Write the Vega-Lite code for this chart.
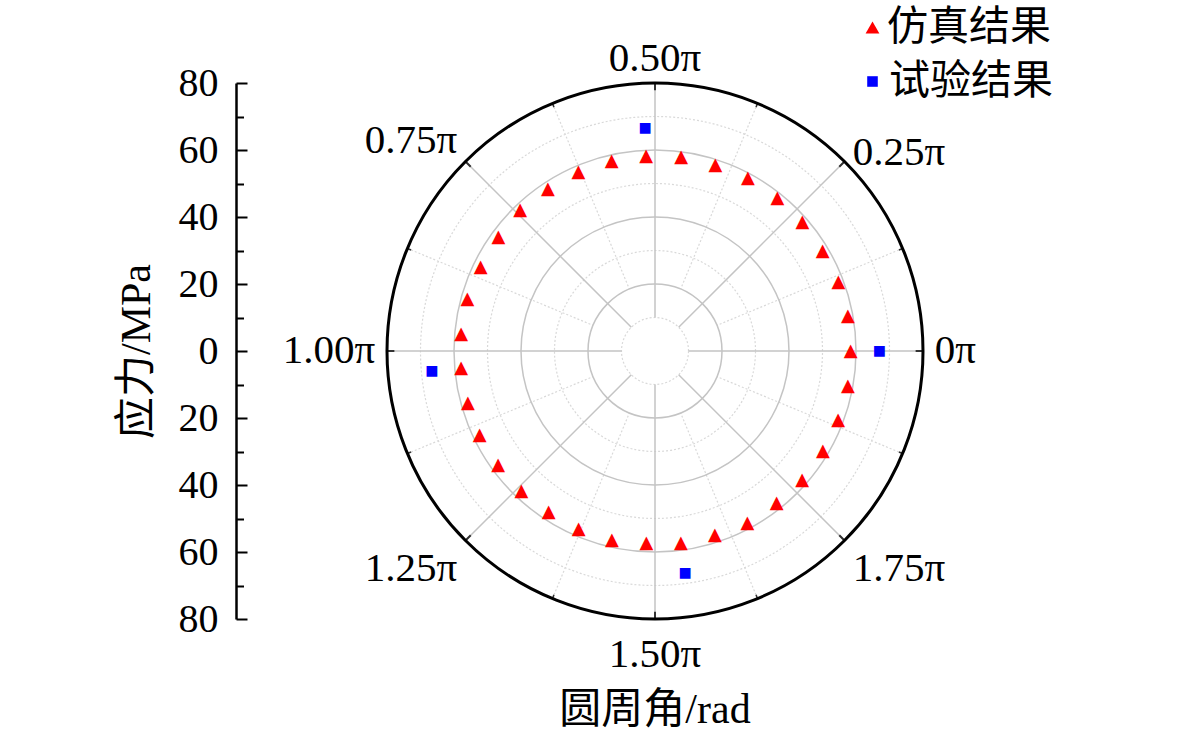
{
  "$schema": "https://vega.github.io/schema/vega-lite/v6.json",
  "description": "Polar stress plot: simulation vs test results around the circumference.",
  "width": 536,
  "height": 536,
  "autosize": "none",
  "padding": {"left": 387, "top": 83, "right": 258, "bottom": 118},
  "background": "white",
  "title": {
    "text": "圆周角/rad",
    "orient": "bottom",
    "anchor": "middle",
    "offset": 15,
    "font": "Liberation Serif, Noto Sans CJK SC",
    "fontSize": 42,
    "fontWeight": "normal",
    "color": "black"
  },
  "datasets": {
    "sim": [
      {"a": 0.0000, "r": 58.4, "s": "仿真结果"},
      {"a": 0.0571, "r": 58.5, "s": "仿真结果"},
      {"a": 0.1143, "r": 58.5, "s": "仿真结果"},
      {"a": 0.1714, "r": 58.3, "s": "仿真结果"},
      {"a": 0.2286, "r": 58.4, "s": "仿真结果"},
      {"a": 0.2857, "r": 58.6, "s": "仿真结果"},
      {"a": 0.3429, "r": 58.6, "s": "仿真结果"},
      {"a": 0.4000, "r": 58.4, "s": "仿真结果"},
      {"a": 0.4571, "r": 58.4, "s": "仿真结果"},
      {"a": 0.5143, "r": 58.2, "s": "仿真结果"},
      {"a": 0.5714, "r": 58.2, "s": "仿真结果"},
      {"a": 0.6286, "r": 58.1, "s": "仿真结果"},
      {"a": 0.6857, "r": 58.0, "s": "仿真结果"},
      {"a": 0.7429, "r": 58.2, "s": "仿真结果"},
      {"a": 0.8000, "r": 57.8, "s": "仿真结果"},
      {"a": 0.8571, "r": 57.8, "s": "仿真结果"},
      {"a": 0.9143, "r": 58.1, "s": "仿真结果"},
      {"a": 0.9714, "r": 58.1, "s": "仿真结果"},
      {"a": 1.0286, "r": 58.1, "s": "仿真结果"},
      {"a": 1.0857, "r": 57.9, "s": "仿真结果"},
      {"a": 1.1429, "r": 58.1, "s": "仿真结果"},
      {"a": 1.2000, "r": 57.9, "s": "仿真结果"},
      {"a": 1.2571, "r": 57.7, "s": "仿真结果"},
      {"a": 1.3143, "r": 57.6, "s": "仿真结果"},
      {"a": 1.3714, "r": 57.9, "s": "仿真结果"},
      {"a": 1.4286, "r": 57.8, "s": "仿真结果"},
      {"a": 1.4857, "r": 57.5, "s": "仿真结果"},
      {"a": 1.5429, "r": 57.8, "s": "仿真结果"},
      {"a": 1.6000, "r": 57.9, "s": "仿真结果"},
      {"a": 1.6571, "r": 58.2, "s": "仿真结果"},
      {"a": 1.7143, "r": 58.2, "s": "仿真结果"},
      {"a": 1.7714, "r": 58.3, "s": "仿真结果"},
      {"a": 1.8286, "r": 58.4, "s": "仿真结果"},
      {"a": 1.8857, "r": 58.4, "s": "仿真结果"},
      {"a": 1.9429, "r": 58.5, "s": "仿真结果"}
    ],
    "exp": [
      {"a": 0.0000, "r": 67.0, "s": "试验结果"},
      {"a": 0.5143, "r": 66.5, "s": "试验结果"},
      {"a": 1.0286, "r": 66.9, "s": "试验结果"},
      {"a": 1.5429, "r": 67.0, "s": "试验结果"}
    ],
    "majorRings": [{"r": 20}, {"r": 40}, {"r": 60}],
    "minorRings": [{"r": 10}, {"r": 30}, {"r": 50}, {"r": 70}],
    "outerRing": [{"r": 80}],
    "spokes": [
      {"a": 0}, {"a": 0.25}, {"a": 0.5}, {"a": 0.75},
      {"a": 1}, {"a": 1.25}, {"a": 1.5}, {"a": 1.75}
    ],
    "minorSpokes": [
      {"a": 0.125}, {"a": 0.375}, {"a": 0.625}, {"a": 0.875},
      {"a": 1.125}, {"a": 1.375}, {"a": 1.625}, {"a": 1.875}
    ],
    "angleLabels": [
      {"a": 0, "t": "0π"},
      {"a": 0.25, "t": "0.25π"},
      {"a": 0.5, "t": "0.50π"},
      {"a": 0.75, "t": "0.75π"},
      {"a": 1, "t": "1.00π"},
      {"a": 1.25, "t": "1.25π"},
      {"a": 1.5, "t": "1.50π"},
      {"a": 1.75, "t": "1.75π"}
    ],
    "yRange": [{"v": -80}, {"v": 80}]
  },
  "layer": [
    {
      "data": {"name": "minorRings"},
      "mark": {"type": "arc", "filled": false, "stroke": "#d9d9d9", "strokeWidth": 1.2, "strokeDash": [2, 2]},
      "encoding": {
        "theta": {"datum": 0, "type": "quantitative", "stack": null, "scale": {"type": "linear", "domain": [0, 2], "range": [1.5707963, -4.712389]}},
        "theta2": {"datum": 2.01},
        "radius": {"field": "r", "type": "quantitative", "scale": {"type": "linear", "domain": [0, 80], "range": [0, 268], "zero": true}},
        "radius2": {"datum": 0}
      }
    },
    {
      "data": {"name": "minorSpokes"},
      "mark": {"type": "arc", "filled": false, "stroke": "#d9d9d9", "strokeWidth": 1.2, "strokeDash": [2, 2]},
      "encoding": {
        "theta": {"field": "a", "type": "quantitative", "stack": null},
        "theta2": {"field": "a"},
        "radius": {"datum": 80, "type": "quantitative"},
        "radius2": {"datum": 20}
      }
    },
    {
      "data": {"name": "majorRings"},
      "mark": {"type": "arc", "filled": false, "stroke": "#c4c4c4", "strokeWidth": 1.5},
      "encoding": {
        "theta": {"datum": 0, "type": "quantitative", "stack": null},
        "theta2": {"datum": 2.01},
        "radius": {"field": "r", "type": "quantitative"},
        "radius2": {"datum": 0}
      }
    },
    {
      "data": {"name": "spokes"},
      "mark": {"type": "arc", "filled": false, "stroke": "#c4c4c4", "strokeWidth": 1.5},
      "encoding": {
        "theta": {"field": "a", "type": "quantitative", "stack": null},
        "theta2": {"field": "a"},
        "radius": {"datum": 80, "type": "quantitative"},
        "radius2": {"datum": 10}
      }
    },
    {
      "data": {"name": "spokes"},
      "mark": {"type": "arc", "filled": false, "stroke": "#333333", "strokeWidth": 2},
      "encoding": {
        "theta": {"field": "a", "type": "quantitative", "stack": null},
        "theta2": {"field": "a"},
        "radius": {"datum": 80, "type": "quantitative"},
        "radius2": {"datum": 77.8}
      }
    },
    {
      "data": {"name": "minorSpokes"},
      "mark": {"type": "arc", "filled": false, "stroke": "#333333", "strokeWidth": 1.5},
      "encoding": {
        "theta": {"field": "a", "type": "quantitative", "stack": null},
        "theta2": {"field": "a"},
        "radius": {"datum": 80, "type": "quantitative"},
        "radius2": {"datum": 78.8}
      }
    },
    {
      "data": {"name": "outerRing"},
      "mark": {"type": "arc", "filled": false, "stroke": "black", "strokeWidth": 3},
      "encoding": {
        "theta": {"datum": 0, "type": "quantitative", "stack": null},
        "theta2": {"datum": 2.01},
        "radius": {"field": "r", "type": "quantitative"},
        "radius2": {"datum": 0}
      }
    },
    {
      "data": {"name": "sim"},
      "mark": {"type": "text", "text": "▲", "font": "DejaVu Sans", "fontSize": 18, "align": "center", "baseline": "middle"},
      "encoding": {
        "theta": {"field": "a", "type": "quantitative", "stack": null},
        "radius": {"field": "r", "type": "quantitative"},
        "color": {
          "field": "s", "type": "nominal",
          "scale": {"domain": ["仿真结果"], "range": ["#ff0000"]},
          "legend": {
            "title": null, "orient": "none", "legendX": 465, "legendY": -76,
            "symbolType": "triangle-up", "symbolSize": 190, "symbolStrokeWidth": 0,
            "labelFont": "Noto Sans CJK SC", "labelFontSize": 41, "labelColor": "black",
            "labelOffset": -6, "labelLimit": 400, "padding": 0
          }
        }
      }
    },
    {
      "data": {"name": "exp"},
      "mark": {"type": "text", "text": "■", "font": "DejaVu Sans", "fontSize": 14, "align": "center", "baseline": "middle"},
      "encoding": {
        "theta": {"field": "a", "type": "quantitative", "stack": null},
        "radius": {"field": "r", "type": "quantitative"},
        "color": {
          "field": "s", "type": "nominal",
          "scale": {"domain": ["试验结果"], "range": ["#0000ff"]},
          "legend": {
            "title": null, "orient": "none", "legendX": 465, "legendY": -22,
            "symbolType": "square", "symbolSize": 112, "symbolStrokeWidth": 0,
            "labelFont": "Noto Sans CJK SC", "labelFontSize": 41, "labelColor": "black",
            "labelOffset": -4, "labelLimit": 400, "padding": 0
          }
        }
      }
    },
    {
      "data": {"name": "angleLabels"},
      "mark": {
        "type": "text",
        "font": "Liberation Serif",
        "fontSize": 41,
        "color": "black",
        "align": {"expr": "datum.a == 0.5 || datum.a == 1.5 ? 'center' : (datum.a > 0.5 && datum.a < 1.5 ? 'right' : 'left')"},
        "baseline": {"expr": "datum.a == 0.5 || datum.a == 0.75 ? 'alphabetic' : (datum.a == 0 || datum.a == 0.25 || datum.a == 1 ? 'middle' : 'top')"},
        "dy": {"expr": "datum.a == 1.5 ? 4 : 0"}
      },
      "encoding": {
        "theta": {"field": "a", "type": "quantitative", "stack": null},
        "radius": {"datum": 83.5, "type": "quantitative"},
        "text": {"field": "t"}
      }
    },
    {
      "data": {"name": "yRange"},
      "mark": {"type": "point", "opacity": 0},
      "encoding": {
        "y": {
          "field": "v", "type": "quantitative",
          "scale": {"domain": [-80, 80], "nice": false, "zero": false},
          "axis": {
            "orient": "left", "offset": 151,
            "values": [-80, -60, -40, -20, 0, 20, 40, 60, 80],
            "labelExpr": "abs(datum.value)",
            "grid": false,
            "domainColor": "black", "domainWidth": 2.5,
            "tickColor": "black", "tickWidth": 2, "tickSize": -11,
            "labelFont": "Liberation Serif", "labelFontSize": 40, "labelColor": "black", "labelPadding": 29,
            "title": "应力/MPa",
            "titleFont": "Liberation Serif, Noto Sans CJK SC", "titleFontSize": 42, "titleFontWeight": "normal",
            "titleColor": "black", "titlePadding": 20
          }
        }
      }
    },
    {
      "data": {"name": "yRange"},
      "mark": {"type": "point", "opacity": 0},
      "encoding": {
        "y": {
          "field": "v", "type": "quantitative",
          "axis": {
            "orient": "left", "offset": 151,
            "values": [-70, -50, -30, -10, 10, 30, 50, 70],
            "labels": false, "domain": false, "grid": false,
            "tickColor": "black", "tickWidth": 2, "tickSize": -7.5,
            "title": null
          }
        }
      }
    }
  ],
  "resolve": {"scale": {"color": "independent"}, "axis": {"y": "independent"}},
  "config": {
    "view": {"stroke": null},
    "axis": {"grid": false}
  }
}
